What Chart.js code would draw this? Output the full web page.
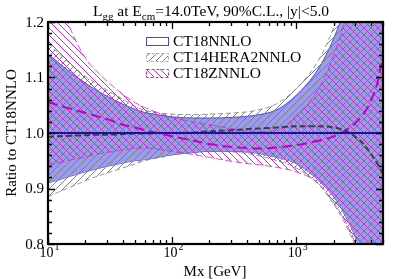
<!DOCTYPE html>
<html>
<head>
<meta charset="utf-8">
<script src="https://cdn.jsdelivr.net/npm/chart.js@4.4.1/dist/chart.umd.min.js"></script>
<style>
  html, body { margin: 0; padding: 0; background: #fff; }
  #lumi { display: block; }
</style>
</head>
<body>
<canvas id="lumi" width="399" height="279"></canvas>
<script>
// --- DATA ---
const massGeV = [10, 12, 15, 20, 25, 30, 40, 50, 60, 80, 100, 150, 200, 300, 400, 500, 700, 1000, 1500, 2000, 2500, 3000, 3500, 4000, 4500, 5000];

const ct18Central = [1, 1, 1, 1, 1, 1, 1, 1, 1, 1, 1, 1, 1, 1, 1, 1, 1, 1, 1, 1, 1, 1, 1, 1, 1, 1];
const ct18Upper = [1.142, 1.128, 1.110, 1.090, 1.076, 1.066, 1.052, 1.043, 1.037, 1.032, 1.029, 1.027, 1.027, 1.028, 1.030, 1.033, 1.042, 1.068, 1.115, 1.170, 1.230, 1.300, 1.370, 1.450, 1.520, 1.600];
const ct18Lower = [0.910, 0.915, 0.922, 0.930, 0.936, 0.940, 0.946, 0.950, 0.952, 0.957, 0.961, 0.965, 0.967, 0.967, 0.966, 0.963, 0.956, 0.945, 0.915, 0.885, 0.850, 0.812, 0.770, 0.720, 0.670, 0.620];

const ct14Central = [0.993, 0.994, 0.995, 0.996, 0.997, 0.997, 0.998, 0.999, 0.999, 1.000, 1.000, 1.001, 1.003, 1.005, 1.007, 1.008, 1.010, 1.012, 1.012, 1.010, 1.004, 0.993, 0.980, 0.962, 0.945, 0.926];
const ct14Upper = [1.162, 1.145, 1.125, 1.102, 1.088, 1.077, 1.061, 1.048, 1.041, 1.036, 1.034, 1.033, 1.034, 1.036, 1.038, 1.042, 1.053, 1.080, 1.130, 1.190, 1.260, 1.330, 1.400, 1.480, 1.550, 1.630];
const ct14Lower = [0.885, 0.893, 0.902, 0.914, 0.922, 0.928, 0.937, 0.944, 0.950, 0.956, 0.960, 0.965, 0.967, 0.966, 0.963, 0.959, 0.950, 0.937, 0.908, 0.872, 0.835, 0.795, 0.750, 0.700, 0.650, 0.600];

const ct18zCentral = [1.056, 1.050, 1.044, 1.036, 1.030, 1.025, 1.015, 1.010, 1.005, 0.999, 0.994, 0.986, 0.980, 0.975, 0.973, 0.972, 0.974, 0.978, 0.986, 0.994, 1.005, 1.018, 1.035, 1.058, 1.090, 1.140];
const ct18zUpper = [1.330, 1.250, 1.190, 1.135, 1.110, 1.093, 1.070, 1.055, 1.046, 1.035, 1.028, 1.020, 1.015, 1.008, 1.004, 1.003, 1.005, 1.032, 1.078, 1.140, 1.210, 1.300, 1.380, 1.460, 1.540, 1.620];
const ct18zLower = [0.942, 0.946, 0.951, 0.957, 0.962, 0.965, 0.969, 0.972, 0.973, 0.970, 0.967, 0.961, 0.956, 0.949, 0.945, 0.943, 0.938, 0.930, 0.910, 0.875, 0.840, 0.800, 0.760, 0.710, 0.660, 0.610];

const yTickLabels = ['0.8', '0.9', '1.0', '1.1', '1.2'];
const xTickDecades = [10, 100, 1000];
const xTickExponents = ['1', '2', '3'];
const legendNames = ['CT18NNLO', 'CT14HERA2NNLO', 'CT18ZNNLO'];

// --- colours / styles ---
const BLUE_FILL = 'rgb(155,155,238)';
const BLUE_EDGE = 'rgb(70,70,225)';
const BLUE_LINE = '#1414a0';
const GRAY = 'rgb(125,125,125)';
const GRAY_DARK = '#3c3c3c';
const MAGENTA = 'rgb(205,40,205)';
const MAGENTA_DARK = '#c000c0';
const SERIF = '"Liberation Serif", "DejaVu Serif", serif';

const canvas = document.getElementById('lumi');
const ctx = canvas.getContext('2d');

// small tile with one diagonal, used as a repeat pattern
function hatch(color, dir) {
  const s = 7;
  const tile = document.createElement('canvas');
  tile.width = s; tile.height = s;
  const g = tile.getContext('2d');
  g.strokeStyle = color;
  g.lineWidth = 1;
  g.beginPath();
  if (dir > 0) {
    g.moveTo(0, s); g.lineTo(s, 0);
    g.moveTo(-1, 1); g.lineTo(1, -1);
    g.moveTo(s - 1, s + 1); g.lineTo(s + 1, s - 1);
  } else {
    g.moveTo(0, 0); g.lineTo(s, s);
    g.moveTo(-1, s - 1); g.lineTo(1, s + 1);
    g.moveTo(s - 1, -1); g.lineTo(s + 1, 1);
  }
  g.stroke();
  return ctx.createPattern(tile, 'repeat');
}

const grayHatch = hatch(GRAY, 1);
const magentaHatch = hatch(MAGENTA, -1);

const pts = (ys) => massGeV.map((m, i) => ({ x: m, y: ys[i] }));

function line(label, ys, color, width, dash, extra) {
  return Object.assign({
    label,
    data: pts(ys),
    borderColor: color,
    borderWidth: width,
    borderDash: dash,
    pointRadius: 0,
    fill: false,
    cubicInterpolationMode: 'monotone',
  }, extra || {});
}

// index 0 is drawn on top, the last index first
const datasets = [
  line('CT18NNLO', ct18Central, BLUE_LINE, 2, []),
  line('CT14HERA2NNLO', ct14Central, GRAY_DARK, 2, [6, 3]),
  line('CT18ZNNLO', ct18zCentral, MAGENTA_DARK, 2, [10, 5]),
  line('ct18z up', ct18zUpper, MAGENTA, 0.8, [7, 3], { fill: '+1', backgroundColor: magentaHatch }),
  line('ct18z lo', ct18zLower, MAGENTA, 0.8, [7, 3]),
  line('ct14 up', ct14Upper, GRAY, 0.8, [5, 3], { fill: '+1', backgroundColor: grayHatch }),
  line('ct14 lo', ct14Lower, GRAY, 0.8, [5, 3]),
  line('ct18 up', ct18Upper, BLUE_EDGE, 1, [], { fill: '+1', backgroundColor: BLUE_FILL }),
  line('ct18 lo', ct18Lower, BLUE_EDGE, 1, []),
];

// frame, inward ticks, labels, title and legend
const decor = {
  id: 'decor',
  afterDraw(chart) {
    const { chartArea: a, scales: { x, y } } = chart;
    const c = chart.ctx;
    c.save();
    c.strokeStyle = '#000';

    // ticks on all four sides, pointing inwards
    c.lineWidth = 1.3;
    c.beginPath();
    for (let i = 0; i <= 20; i++) {
      const v = 0.8 + i * 0.02;
      const py = Math.round(y.getPixelForValue(v)) + 0.5;
      const len = i % 5 === 0 ? 7 : 4;
      c.moveTo(a.left, py); c.lineTo(a.left + len, py);
      c.moveTo(a.right, py); c.lineTo(a.right - len, py);
    }
    xTickDecades.forEach(d => {
      for (let k = 1; k <= 9; k++) {
        const m = k * d;
        if (m > x.max) break;
        const px = Math.round(x.getPixelForValue(m)) + 0.5;
        const len = k === 1 ? 7 : 4;
        c.moveTo(px, a.bottom); c.lineTo(px, a.bottom - len);
        c.moveTo(px, a.top); c.lineTo(px, a.top + len);
      }
    });
    c.stroke();

    c.lineWidth = 2.2;
    c.strokeRect(a.left, a.top, a.right - a.left, a.bottom - a.top);

    c.fillStyle = '#000';
    // y tick labels
    c.font = '15px ' + SERIF;
    c.textAlign = 'right';
    c.textBaseline = 'middle';
    yTickLabels.forEach(t => {
      c.fillText(t, a.left - 4, y.getPixelForValue(parseFloat(t)) + 1);
    });

    // x tick labels 10^n
    c.textBaseline = 'alphabetic';
    c.textAlign = 'left';
    xTickDecades.forEach((d, i) => {
      c.font = '14px ' + SERIF;
      const wb = c.measureText('10').width;
      c.font = '10px ' + SERIF;
      const we = c.measureText(xTickExponents[i]).width;
      const px = x.getPixelForValue(d);
      const x0 = px - (wb + we) / 2 + 1;
      c.font = '14px ' + SERIF;
      c.fillText('10', x0, 257);
      c.font = '10px ' + SERIF;
      c.fillText(xTickExponents[i], x0 + wb + 1, 250);
    });

    // axis titles
    c.font = '15px ' + SERIF;
    c.textAlign = 'center';
    c.fillText('Mx [GeV]', 215, 276);
    c.save();
    c.translate(12, 133);
    c.rotate(-Math.PI / 2);
    c.textBaseline = 'middle';
    c.fillText('Ratio to CT18NNLO', 0, 0);
    c.restore();

    // title with subscripts
    const big = '15.5px ' + SERIF, small = '11px ' + SERIF;
    const parts = [
      ['L', big, 0], ['gg', small, 4], [' at E', big, 0], ['cm', small, 4],
      ['=14.0TeV, 90%C.L., |y|<5.0', big, 0],
    ];
    let total = 0;
    parts.forEach(p => { c.font = p[1]; total += c.measureText(p[0]).width; });
    let tx = 211 - total / 2;
    c.textAlign = 'left';
    parts.forEach(p => {
      c.font = p[1];
      c.fillText(p[0], tx, 16 + p[2]);
      tx += c.measureText(p[0]).width;
    });

    // legend
    const rows = [41, 57, 73];
    const sx = 146, sw = 22, sh = 8;
    c.lineWidth = 1;
    // CT18NNLO: outlined box
    c.fillStyle = '#fff';
    c.fillRect(sx, rows[0] - sh / 2, sw, sh);
    c.strokeStyle = BLUE_EDGE;
    c.strokeRect(sx + 0.5, rows[0] - sh / 2 + 0.5, sw, sh);
    // CT14HERA2NNLO: gray hatch
    c.fillStyle = grayHatch;
    c.fillRect(sx, rows[1] - sh / 2, sw, sh);
    c.setLineDash([3, 2]);
    c.strokeStyle = 'rgb(170,170,170)';
    c.strokeRect(sx + 0.5, rows[1] - sh / 2 + 0.5, sw, sh);
    // CT18ZNNLO: magenta hatch
    c.fillStyle = magentaHatch;
    c.fillRect(sx, rows[2] - sh / 2, sw, sh);
    c.strokeStyle = MAGENTA;
    c.strokeRect(sx + 0.5, rows[2] - sh / 2 + 0.5, sw, sh);
    c.setLineDash([]);

    c.fillStyle = '#000';
    c.font = big;
    c.textBaseline = 'middle';
    legendNames.forEach((n, i) => c.fillText(n, 173, rows[i] + 1));
    c.restore();
  }
};

new Chart(ctx, {
  type: 'line',
  data: { datasets },
  options: {
    responsive: false,
    animation: false,
    layout: { padding: { top: 22, right: 16, left: 0, bottom: 0 } },
    plugins: {
      legend: { display: false },
      tooltip: { enabled: false },
      title: { display: false },
    },
    scales: {
      x: {
        type: 'logarithmic',
        min: 10,
        max: 5000,
        ticks: { display: false },
        grid: { display: false },
        border: { display: false },
        afterFit: s => { s.height = 35; },
      },
      y: {
        type: 'linear',
        min: 0.8,
        max: 1.2,
        ticks: { display: false },
        grid: { display: false },
        border: { display: false },
        afterFit: s => { s.width = 48; },
      },
    },
  },
  plugins: [decor],
});
</script>
</body>
</html>
